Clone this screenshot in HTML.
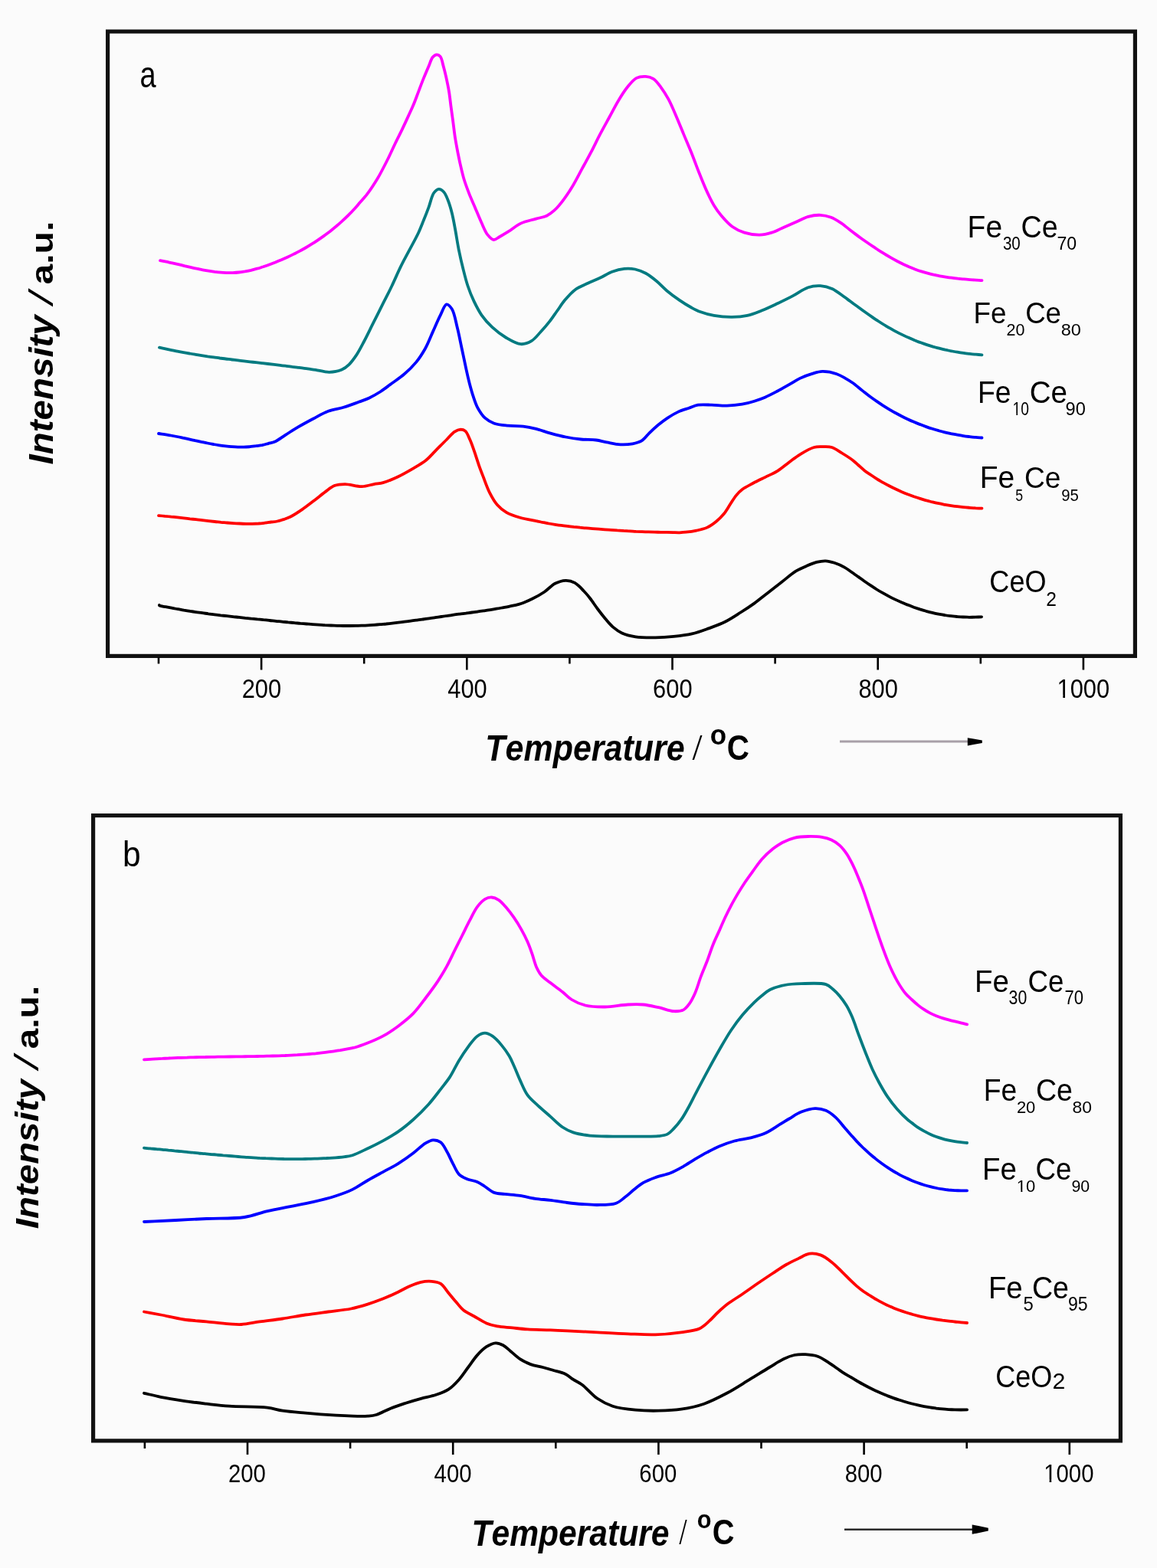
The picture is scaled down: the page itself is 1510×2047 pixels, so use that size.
<!DOCTYPE html><html><head><meta charset="utf-8"><title>TPR</title><style>html,body{margin:0;padding:0;background:#fbfbfb;}svg{display:block;}</style></head><body>
<svg width="1510" height="2047" viewBox="0 0 1510 2047">
<rect x="0" y="0" width="1510" height="2047" fill="#fbfbfb"/>
<rect x="140.6" y="41.1" width="1340.8" height="815.3" fill="none" stroke="#111" stroke-width="5.2"/>
<line x1="207.0" y1="858.0" x2="207.0" y2="866.5" stroke="#000" stroke-width="2.6"/>
<line x1="341.1" y1="858.0" x2="341.1" y2="874.5" stroke="#000" stroke-width="2.6"/>
<line x1="475.2" y1="858.0" x2="475.2" y2="866.5" stroke="#000" stroke-width="2.6"/>
<line x1="609.3" y1="858.0" x2="609.3" y2="874.5" stroke="#000" stroke-width="2.6"/>
<line x1="743.4" y1="858.0" x2="743.4" y2="866.5" stroke="#000" stroke-width="2.6"/>
<line x1="877.5" y1="858.0" x2="877.5" y2="874.5" stroke="#000" stroke-width="2.6"/>
<line x1="1011.6" y1="858.0" x2="1011.6" y2="866.5" stroke="#000" stroke-width="2.6"/>
<line x1="1145.7" y1="858.0" x2="1145.7" y2="874.5" stroke="#000" stroke-width="2.6"/>
<line x1="1279.8" y1="858.0" x2="1279.8" y2="866.5" stroke="#000" stroke-width="2.6"/>
<line x1="1413.9" y1="858.0" x2="1413.9" y2="874.5" stroke="#000" stroke-width="2.6"/>
<path d="M209.0,340.2 C211.6,340.7 214.3,341.2 216.9,341.7 C219.5,342.3 222.2,342.8 224.8,343.4 C227.5,344.0 230.1,344.6 232.7,345.2 C235.4,345.8 238.0,346.4 240.6,347.1 C243.3,347.7 245.9,348.3 248.5,348.9 C251.2,349.5 253.8,350.1 256.5,350.7 C259.1,351.2 261.7,351.8 264.4,352.3 C267.0,352.8 269.6,353.3 272.3,353.7 C274.9,354.1 277.5,354.5 280.2,354.9 C282.8,355.2 285.5,355.5 288.1,355.7 C290.7,355.9 293.4,356.0 296.0,356.1 C298.6,356.2 301.3,356.2 303.9,356.1 C306.5,356.0 309.2,355.8 311.8,355.5 C314.5,355.2 317.1,354.8 319.7,354.4 C322.4,353.9 325.0,353.4 327.6,352.8 C330.3,352.1 332.9,351.4 335.5,350.7 C338.2,350.0 340.8,349.1 343.5,348.3 C346.1,347.4 348.7,346.5 351.4,345.5 C354.0,344.5 356.6,343.5 359.3,342.5 C361.9,341.4 364.6,340.3 367.2,339.2 C369.8,338.1 372.5,336.9 375.1,335.7 C377.7,334.5 380.4,333.2 383.0,331.9 C385.6,330.6 388.3,329.3 390.9,327.9 C393.6,326.5 396.2,325.0 398.8,323.5 C401.5,322.0 404.1,320.4 406.7,318.7 C409.4,317.1 412.0,315.4 414.6,313.6 C417.3,311.8 419.9,310.0 422.5,308.1 C425.2,306.2 427.8,304.2 430.5,302.2 C433.1,300.1 435.7,298.0 438.4,295.8 C441.0,293.5 443.7,291.2 446.3,288.9 C448.9,286.5 451.6,284.0 454.2,281.4 C456.8,278.8 459.5,276.1 462.1,273.3 C464.8,270.4 467.3,267.2 470.0,264.1 C472.9,260.7 475.8,257.8 479.0,253.6 C483.4,247.8 488.7,239.7 493.2,232.2 C497.9,224.3 502.5,214.9 506.5,207.0 C510.0,200.0 512.7,193.7 515.8,187.2 C518.8,180.9 522.1,174.7 525.0,168.6 C527.8,162.8 530.5,156.9 533.0,151.4 C535.3,146.3 537.5,141.9 539.6,136.8 C541.9,131.3 544.0,125.3 546.2,119.6 C548.4,113.9 550.5,108.0 552.8,102.4 C555.0,97.0 557.4,91.4 559.5,86.5 C561.3,82.2 562.6,77.2 564.8,74.6 C566.3,72.8 568.4,71.3 570.1,71.3 C571.7,71.3 573.4,72.3 574.7,73.9 C576.7,76.4 577.5,82.2 578.7,86.5 C579.9,90.8 580.9,94.8 582.0,99.7 C583.3,105.6 584.9,112.9 586.0,119.6 C587.1,126.2 587.7,132.9 588.6,139.5 C589.5,146.1 590.4,152.7 591.3,159.3 C592.2,165.9 592.9,172.7 593.9,179.2 C594.9,185.5 596.1,191.8 597.2,197.7 C598.3,203.2 599.2,207.9 600.5,213.6 C602.0,220.2 603.7,228.0 605.8,234.8 C607.8,241.3 610.1,247.2 612.5,253.4 C614.9,259.6 617.8,265.7 620.4,271.9 C623.0,278.1 625.6,284.6 628.3,290.5 C630.9,296.1 633.2,302.5 636.3,306.4 C638.7,309.4 641.4,312.7 644.2,313.0 C646.8,313.3 649.2,310.6 652.2,309.0 C656.1,306.9 660.9,303.9 665.4,301.1 C670.1,298.1 674.3,294.1 679.7,291.6 C685.6,288.8 693.6,287.4 699.6,285.6 C704.6,284.1 709.4,283.7 713.5,281.7 C717.3,279.9 720.1,277.7 723.4,274.7 C727.4,271.0 731.6,265.9 735.4,260.8 C739.6,255.3 743.5,249.2 747.3,242.9 C751.4,236.1 755.2,228.4 759.2,221.1 C763.2,213.8 767.2,206.7 771.1,199.2 C775.2,191.5 779.0,183.1 783.1,175.4 C787.0,167.9 791.0,160.8 795.0,153.5 C799.0,146.2 802.8,138.5 806.9,131.7 C810.7,125.4 814.6,119.0 818.8,113.8 C822.6,109.2 826.3,104.1 830.7,101.9 C834.4,100.0 838.9,99.7 842.7,99.9 C846.2,100.1 849.5,100.9 852.6,102.8 C856.3,105.1 859.4,109.6 862.5,113.8 C866.0,118.5 869.4,123.9 872.5,129.7 C876.0,136.3 879.2,144.0 882.4,151.5 C885.8,159.3 889.0,167.4 892.3,175.4 C895.6,183.3 899.0,191.1 902.3,199.2 C905.7,207.6 908.8,216.6 912.2,225.0 C915.4,233.1 918.7,241.4 922.1,248.9 C925.2,255.7 928.2,262.2 931.7,267.9 C934.8,273.0 937.8,277.3 941.6,281.8 C945.7,286.6 950.4,292.0 955.5,295.7 C960.4,299.2 965.6,301.8 971.4,303.6 C977.5,305.5 985.0,306.7 991.3,306.6 C996.9,306.5 1002.0,305.2 1007.2,303.6 C1012.6,301.9 1017.8,299.0 1023.1,296.7 C1028.4,294.4 1033.7,292.0 1039.0,289.7 C1044.3,287.4 1049.4,284.3 1054.8,282.8 C1060.0,281.4 1065.6,280.6 1070.7,280.8 C1075.5,281.0 1080.1,282.1 1084.6,283.8 C1089.4,285.6 1096.4,290.3 1098.6,291.7 C1099.3,292.2 1099.3,292.2 1100.0,292.7 C1101.6,293.9 1105.3,296.9 1107.9,299.0 C1110.5,301.0 1113.1,303.1 1115.8,305.1 C1118.4,307.1 1121.0,309.1 1123.7,311.0 C1126.3,312.9 1128.9,314.7 1131.6,316.5 C1134.2,318.3 1136.8,320.1 1139.5,321.9 C1142.1,323.6 1144.7,325.4 1147.3,327.1 C1150.0,328.7 1152.6,330.4 1155.2,332.0 C1157.9,333.6 1160.5,335.1 1163.1,336.6 C1165.7,338.1 1168.4,339.6 1171.0,341.0 C1173.6,342.4 1176.3,343.7 1178.9,345.0 C1181.5,346.2 1184.2,347.4 1186.8,348.6 C1189.4,349.7 1192.1,350.7 1194.7,351.7 C1197.3,352.7 1199.9,353.6 1202.6,354.4 C1205.2,355.3 1207.8,356.0 1210.5,356.7 C1213.1,357.4 1215.7,358.1 1218.4,358.7 C1221.0,359.2 1223.6,359.8 1226.3,360.3 C1228.9,360.8 1231.5,361.2 1234.2,361.6 C1236.8,362.0 1239.4,362.4 1242.0,362.7 C1244.7,363.1 1247.3,363.4 1249.9,363.7 C1252.6,363.9 1255.2,364.2 1257.8,364.4 C1260.5,364.7 1263.1,364.9 1265.7,365.1 C1268.3,365.3 1271.0,365.5 1273.6,365.6 C1276.2,365.8 1278.9,365.9 1281.5,366.1" fill="none" stroke="#ff00ff" stroke-width="3.8" stroke-linejoin="round" stroke-linecap="round"/>
<path d="M208.0,453.7 C210.6,454.3 213.3,454.9 215.9,455.4 C218.5,456.0 221.1,456.6 223.8,457.1 C226.4,457.6 229.0,458.2 231.6,458.7 C234.3,459.2 236.9,459.7 239.5,460.1 C242.1,460.6 244.8,461.1 247.4,461.5 C250.0,462.0 252.7,462.4 255.3,462.8 C257.9,463.3 260.5,463.7 263.2,464.1 C265.8,464.5 268.4,464.9 271.0,465.3 C273.7,465.6 276.3,466.0 278.9,466.4 C281.5,466.8 284.2,467.1 286.8,467.5 C289.4,467.8 292.1,468.2 294.7,468.5 C297.3,468.8 299.9,469.2 302.6,469.5 C305.2,469.8 307.8,470.1 310.4,470.4 C313.1,470.8 315.7,471.1 318.3,471.4 C320.9,471.7 323.6,472.0 326.2,472.3 C328.8,472.6 331.5,472.9 334.1,473.2 C336.7,473.5 339.3,473.8 342.0,474.1 C344.6,474.4 347.2,474.7 349.8,475.0 C352.5,475.3 355.1,475.6 357.7,475.9 C360.3,476.2 363.0,476.5 365.6,476.8 C368.2,477.2 370.9,477.5 373.5,477.8 C376.1,478.1 378.7,478.4 381.4,478.8 C384.0,479.1 386.6,479.5 389.2,479.8 C391.9,480.2 394.5,480.6 397.1,480.9 C399.7,481.3 402.5,481.6 405.0,481.9 C407.4,482.2 409.1,482.4 411.9,482.8 C416.5,483.5 424.0,485.9 429.8,485.8 C435.3,485.7 441.2,484.7 445.7,482.8 C449.6,481.1 452.5,478.8 455.6,475.8 C459.2,472.4 462.4,467.7 465.6,462.9 C469.1,457.5 472.1,451.4 475.5,445.0 C479.4,437.7 483.4,429.1 487.4,421.2 C491.4,413.3 495.3,405.3 499.3,397.4 C503.3,389.4 507.4,381.7 511.3,373.5 C515.3,365.1 519.3,355.6 523.2,347.7 C526.5,340.9 529.5,335.6 533.0,328.9 C537.1,321.1 542.7,311.2 546.2,303.7 C548.9,297.9 550.6,293.2 552.8,287.8 C555.1,282.2 557.3,276.5 559.5,270.6 C561.8,264.5 563.2,256.1 566.1,252.0 C568.0,249.4 570.4,247.0 572.7,246.8 C574.9,246.7 577.4,248.7 579.3,250.7 C581.6,253.2 583.0,257.3 584.6,261.3 C586.6,266.3 588.4,272.5 589.9,278.5 C591.5,284.9 592.6,291.2 593.9,298.4 C595.5,306.8 596.9,316.8 598.7,325.8 C600.5,334.6 602.5,343.5 604.6,351.7 C606.5,359.3 608.2,366.5 610.6,373.5 C612.9,380.4 615.6,387.0 618.6,393.4 C621.6,399.6 624.6,405.7 628.5,411.3 C632.5,417.0 637.2,422.4 642.4,427.2 C647.7,432.1 653.7,436.8 660.0,440.5 C666.2,444.1 673.6,448.8 679.7,449.2 C684.7,449.5 689.4,447.7 693.6,445.2 C698.1,442.5 701.7,437.5 705.6,433.3 C709.7,428.9 713.8,424.1 717.5,419.4 C721.1,414.8 724.1,410.1 727.4,405.5 C730.7,400.9 733.6,396.1 737.4,391.6 C741.5,386.8 746.2,381.4 751.3,377.7 C756.2,374.2 761.9,372.2 767.2,369.7 C772.5,367.2 777.8,365.3 783.1,362.8 C788.4,360.3 793.5,356.8 798.9,354.8 C804.1,352.9 809.6,351.4 814.8,350.9 C819.6,350.4 824.2,350.6 828.8,351.5 C833.5,352.5 838.2,354.4 842.7,356.8 C847.5,359.4 852.1,363.1 856.6,366.8 C861.4,370.7 865.6,375.6 870.5,379.7 C875.5,383.9 881.0,387.9 886.4,391.6 C891.6,395.2 897.4,398.8 902.3,401.5 C906.4,403.7 909.5,405.4 913.8,407.0 C919.0,408.9 925.3,410.8 931.7,411.9 C939.0,413.2 947.9,414.0 955.5,413.9 C962.4,413.8 968.9,413.3 975.4,411.9 C982.1,410.4 988.6,407.6 995.2,405.0 C1001.9,402.3 1008.5,399.1 1015.1,396.0 C1021.8,392.8 1028.4,389.6 1035.0,386.1 C1041.6,382.6 1048.4,377.3 1054.8,375.2 C1060.2,373.4 1065.4,372.9 1070.7,373.2 C1076.0,373.5 1083.3,375.8 1086.6,377.2 C1088.2,377.9 1088.6,378.4 1090.0,379.3 C1092.1,380.7 1095.3,382.8 1098.0,384.7 C1100.7,386.6 1103.3,388.6 1106.0,390.6 C1108.6,392.6 1111.3,394.5 1113.9,396.5 C1116.6,398.4 1119.3,400.3 1121.9,402.2 C1124.6,404.2 1127.2,406.1 1129.9,408.0 C1132.5,409.9 1135.2,411.8 1137.9,413.6 C1140.5,415.5 1143.2,417.2 1145.9,419.0 C1148.5,420.7 1151.2,422.4 1153.8,424.0 C1156.5,425.6 1159.1,427.2 1161.8,428.7 C1164.5,430.2 1167.1,431.7 1169.8,433.1 C1172.4,434.5 1175.1,435.8 1177.8,437.1 C1180.4,438.4 1183.1,439.7 1185.8,440.8 C1188.4,442.0 1191.1,443.2 1193.7,444.3 C1196.4,445.3 1199.0,446.4 1201.7,447.3 C1204.4,448.3 1207.0,449.2 1209.7,450.1 C1212.3,451.0 1215.0,451.8 1217.7,452.6 C1220.3,453.3 1223.0,454.1 1225.6,454.7 C1228.3,455.4 1231.0,456.1 1233.6,456.7 C1236.3,457.2 1238.9,457.8 1241.6,458.3 C1244.3,458.8 1246.9,459.3 1249.6,459.7 C1252.2,460.2 1254.9,460.6 1257.6,460.9 C1260.2,461.3 1262.9,461.6 1265.5,461.9 C1268.2,462.2 1270.9,462.5 1273.5,462.7 C1276.2,462.9 1278.8,463.1 1281.5,463.3" fill="none" stroke="#037a80" stroke-width="3.8" stroke-linejoin="round" stroke-linecap="round"/>
<path d="M207.0,566.0 C209.6,566.4 212.3,566.7 214.9,567.1 C217.6,567.5 220.2,568.0 222.9,568.5 C225.5,569.0 228.2,569.5 230.8,570.0 C233.5,570.5 236.1,571.1 238.8,571.7 C241.4,572.2 244.1,572.8 246.7,573.4 C249.4,574.0 252.0,574.6 254.7,575.2 C257.3,575.7 260.0,576.3 262.6,576.9 C265.3,577.4 267.9,578.0 270.6,578.5 C273.2,579.1 275.8,579.6 278.5,580.0 C281.1,580.5 283.8,581.0 286.4,581.4 C289.1,581.8 291.7,582.1 294.4,582.4 C297.0,582.7 299.7,583.0 302.3,583.2 C305.0,583.4 307.6,583.6 310.3,583.6 C312.9,583.7 315.6,583.7 318.2,583.7 C320.9,583.6 323.5,583.4 326.2,583.2 C328.8,582.9 331.5,582.5 334.1,582.2 C336.8,581.8 339.4,581.6 342.1,581.1 C344.7,580.5 347.3,579.8 350.0,579.1 C352.9,578.3 355.8,578.0 359.0,576.5 C363.3,574.6 368.1,570.6 372.9,567.6 C378.0,564.4 383.2,560.9 388.8,557.6 C395.0,554.0 402.0,550.2 408.6,546.7 C415.2,543.2 421.7,539.3 428.5,536.8 C435.0,534.4 441.8,533.8 448.4,531.8 C455.1,529.8 462.2,527.0 468.2,524.8 C473.2,522.9 477.4,521.7 482.0,519.5 C487.0,517.1 492.1,514.1 497.0,511.0 C501.9,507.8 506.4,504.1 511.3,500.5 C516.5,496.7 522.1,493.2 527.2,488.8 C532.7,484.1 538.4,478.6 543.1,472.9 C547.7,467.3 551.4,461.4 555.0,455.0 C558.8,448.2 561.6,440.4 564.9,433.1 C568.2,425.8 571.5,417.7 574.8,411.3 C577.5,406.1 579.9,397.9 582.8,397.4 C585.0,397.0 587.7,400.3 589.7,403.3 C593.0,408.3 594.6,418.9 596.7,427.2 C599.0,436.1 600.7,445.7 602.7,455.0 C604.7,464.3 606.8,474.6 608.6,482.8 C610.0,489.2 611.2,494.4 612.6,500.0 C614.0,505.4 615.4,510.6 617.1,515.9 C618.9,521.2 620.5,526.8 623.1,531.8 C625.8,536.8 629.1,542.1 633.0,545.7 C636.5,548.9 640.4,551.1 644.9,552.7 C650.1,554.6 656.7,555.0 662.8,555.6 C669.2,556.3 676.5,555.9 682.7,556.6 C688.3,557.3 693.0,558.2 698.6,559.6 C704.9,561.1 711.8,563.8 718.4,565.6 C725.0,567.4 731.6,569.2 738.3,570.5 C744.9,571.8 751.6,572.8 758.2,573.5 C764.8,574.2 772.0,573.7 778.0,574.5 C783.0,575.2 786.9,576.5 791.8,577.4 C797.4,578.4 803.9,580.0 809.7,580.3 C815.1,580.6 820.7,580.2 825.6,579.3 C829.9,578.5 833.9,577.6 837.5,575.4 C841.3,573.1 843.9,568.8 847.4,565.4 C851.1,561.8 855.2,557.9 859.3,554.5 C863.2,551.3 867.1,548.4 871.3,545.6 C875.7,542.7 880.5,539.8 885.2,537.6 C889.7,535.5 894.6,534.2 899.1,532.7 C903.2,531.3 906.6,529.4 911.0,528.7 C916.3,527.8 922.8,528.5 928.9,528.7 C935.4,528.9 942.2,529.9 948.8,529.7 C955.4,529.5 962.4,528.8 968.6,527.7 C974.2,526.7 979.4,525.3 984.5,523.7 C989.3,522.2 993.7,520.7 998.4,518.7 C1003.6,516.5 1009.0,513.6 1014.3,510.8 C1019.6,508.0 1025.1,504.8 1030.2,501.9 C1035.0,499.2 1039.2,496.2 1044.1,493.9 C1049.1,491.5 1054.9,489.4 1060.0,487.9 C1064.6,486.5 1068.4,485.0 1073.2,484.9 C1078.9,484.8 1085.7,486.0 1092.0,488.2 C1099.1,490.8 1108.5,496.9 1113.5,500.3 C1116.4,502.3 1117.7,503.7 1120.0,505.5 C1122.5,507.6 1125.4,509.9 1128.1,512.1 C1130.8,514.2 1133.4,516.3 1136.2,518.3 C1138.8,520.2 1141.5,522.1 1144.2,523.9 C1146.9,525.8 1149.6,527.6 1152.3,529.3 C1155.0,531.0 1157.7,532.7 1160.4,534.3 C1163.1,535.9 1165.7,537.5 1168.5,539.0 C1171.1,540.4 1173.8,541.9 1176.5,543.2 C1179.2,544.6 1181.9,545.9 1184.6,547.2 C1187.3,548.5 1190.0,549.7 1192.7,550.8 C1195.4,552.0 1198.0,553.1 1200.8,554.1 C1203.4,555.2 1206.1,556.2 1208.8,557.1 C1211.5,558.1 1214.2,559.0 1216.9,559.8 C1219.6,560.7 1222.3,561.5 1225.0,562.2 C1227.7,563.0 1230.4,563.7 1233.0,564.3 C1235.7,565.0 1238.4,565.6 1241.1,566.2 C1243.8,566.7 1246.5,567.3 1249.2,567.7 C1251.9,568.2 1254.6,568.7 1257.3,569.1 C1260.0,569.5 1262.7,569.8 1265.3,570.1 C1268.0,570.4 1270.7,570.7 1273.4,570.9 C1276.1,571.2 1278.8,571.3 1281.5,571.5" fill="none" stroke="#0000ff" stroke-width="3.8" stroke-linejoin="round" stroke-linecap="round"/>
<path d="M207.0,673.2 C209.7,673.4 212.4,673.6 215.2,673.9 C217.9,674.1 220.6,674.3 223.3,674.6 C226.0,674.8 228.7,675.1 231.4,675.4 C234.2,675.7 236.9,676.0 239.6,676.3 C242.3,676.6 245.0,676.9 247.8,677.3 C250.5,677.6 253.2,677.9 255.9,678.2 C258.6,678.5 261.3,678.9 264.1,679.2 C266.8,679.5 269.5,679.8 272.2,680.1 C274.9,680.4 277.6,680.7 280.4,681.0 C283.1,681.3 285.8,681.5 288.5,681.8 C291.2,682.0 293.9,682.3 296.6,682.5 C299.4,682.7 302.1,682.9 304.8,683.1 C307.5,683.3 310.2,683.4 312.9,683.5 C315.7,683.7 318.4,683.8 321.1,683.8 C323.8,683.8 326.5,683.9 329.2,683.8 C332.0,683.7 334.7,683.6 337.4,683.5 C340.1,683.3 342.8,683.0 345.6,682.7 C348.3,682.4 351.0,681.9 353.7,681.5 C356.4,681.2 359.2,681.1 361.9,680.5 C364.6,680.0 367.2,679.0 370.0,678.1 C372.9,677.1 375.5,676.4 378.8,674.8 C383.4,672.5 389.5,668.5 394.7,664.9 C400.1,661.2 405.5,656.9 410.6,653.0 C415.4,649.3 420.0,645.4 424.5,642.1 C428.6,639.1 432.1,635.8 436.4,634.1 C440.7,632.5 445.1,632.1 450.3,632.1 C456.8,632.1 465.5,635.3 472.2,635.1 C477.9,635.0 483.2,633.0 488.1,632.1 C492.3,631.3 495.5,631.3 499.9,630.1 C505.7,628.5 513.2,625.3 519.7,622.2 C526.4,619.0 533.4,614.9 539.6,611.3 C545.3,608.0 550.6,605.2 555.5,601.3 C560.5,597.3 564.8,592.0 569.4,587.4 C574.0,582.8 579.0,577.7 583.3,573.5 C586.9,569.9 589.9,565.8 593.3,563.6 C595.9,561.9 598.7,560.7 601.2,560.6 C603.3,560.6 605.4,561.1 607.2,562.6 C609.7,564.7 611.3,569.5 613.1,573.5 C615.3,578.2 617.2,583.9 619.1,589.4 C621.1,595.2 623.0,601.5 625.0,607.3 C626.9,612.8 628.8,617.6 631.0,623.2 C633.4,629.5 635.9,637.0 639.0,643.1 C641.9,648.8 645.0,654.6 648.9,659.0 C652.4,663.0 656.2,666.2 660.8,668.9 C665.9,671.9 672.5,674.0 678.7,675.8 C685.1,677.7 695.8,679.2 698.6,679.8 C699.3,679.9 699.3,679.9 700.0,680.1 C701.6,680.4 705.4,681.3 708.1,681.9 C710.8,682.4 713.5,683.0 716.2,683.5 C719.0,684.0 721.7,684.4 724.4,684.8 C727.1,685.2 729.8,685.6 732.5,685.9 C735.2,686.3 737.9,686.6 740.6,686.9 C743.3,687.3 746.0,687.6 748.8,687.9 C751.5,688.1 754.2,688.4 756.9,688.7 C759.6,688.9 762.3,689.2 765.0,689.4 C767.7,689.7 770.4,689.9 773.1,690.1 C775.8,690.3 778.5,690.5 781.2,690.7 C784.0,690.9 786.7,691.1 789.4,691.3 C792.1,691.5 794.8,691.7 797.5,691.8 C800.2,692.0 802.9,692.2 805.6,692.4 C808.3,692.5 811.0,692.7 813.8,692.9 C816.5,693.0 819.2,693.2 821.9,693.3 C824.6,693.5 827.3,693.6 830.0,693.8 C832.7,693.9 835.4,694.0 838.1,694.1 C840.8,694.3 843.5,694.4 846.2,694.4 C849.0,694.5 851.7,694.6 854.4,694.7 C857.1,694.7 859.8,694.8 862.5,694.8 C865.2,694.9 867.9,694.9 870.6,694.9 C873.3,694.9 876.0,695.0 878.8,695.1 C881.5,695.2 884.2,695.4 886.9,695.3 C889.6,695.2 891.9,695.1 895.0,694.7 C899.0,694.3 904.4,693.6 909.0,692.6 C913.7,691.6 918.6,690.6 922.9,688.6 C927.2,686.6 931.1,683.7 934.8,680.7 C938.4,677.7 941.8,674.3 944.8,670.7 C947.8,667.0 950.1,662.8 952.7,658.8 C955.4,654.8 957.9,650.3 960.7,646.9 C963.2,643.9 965.4,641.4 968.6,639.0 C972.4,636.1 977.7,633.6 982.5,631.0 C987.6,628.3 993.1,625.7 998.4,623.1 C1003.7,620.4 1009.1,618.3 1014.3,615.1 C1019.8,611.7 1025.1,607.0 1030.2,603.2 C1035.0,599.7 1039.0,596.4 1044.1,593.3 C1049.7,589.9 1056.8,585.5 1062.4,584.0 C1066.6,582.8 1070.1,583.2 1074.0,583.2 C1077.9,583.2 1081.7,582.8 1085.6,584.0 C1090.0,585.3 1094.3,588.7 1098.8,591.5 C1103.7,594.5 1109.9,598.4 1113.7,601.4 C1116.3,603.4 1117.8,605.0 1120.0,607.0 C1122.5,609.2 1125.3,612.0 1128.1,614.2 C1130.7,616.3 1133.4,618.0 1136.2,619.8 C1138.8,621.6 1141.5,623.4 1144.2,625.1 C1146.9,626.8 1149.6,628.3 1152.3,629.9 C1155.0,631.4 1157.7,632.9 1160.4,634.3 C1163.1,635.7 1165.7,637.0 1168.5,638.3 C1171.1,639.6 1173.8,640.8 1176.5,642.0 C1179.2,643.1 1181.9,644.2 1184.6,645.3 C1187.3,646.3 1190.0,647.3 1192.7,648.3 C1195.4,649.2 1198.1,650.1 1200.8,650.9 C1203.4,651.8 1206.1,652.6 1208.8,653.3 C1211.5,654.1 1214.2,654.7 1216.9,655.4 C1219.6,656.1 1222.3,656.7 1225.0,657.2 C1227.7,657.8 1230.4,658.3 1233.0,658.8 C1235.7,659.3 1238.4,659.7 1241.1,660.1 C1243.8,660.5 1246.5,660.9 1249.2,661.2 C1251.9,661.6 1254.6,661.9 1257.3,662.1 C1260.0,662.4 1262.7,662.6 1265.3,662.8 C1268.0,663.0 1270.7,663.2 1273.4,663.4 C1276.1,663.5 1278.8,663.6 1281.5,663.7" fill="none" stroke="#ff0000" stroke-width="3.8" stroke-linejoin="round" stroke-linecap="round"/>
<path d="M207.9,790.0 C207.9,790.2 207.8,790.4 208.0,790.5 C208.6,791.2 213.3,791.7 216.0,792.2 C218.7,792.7 221.3,793.2 224.0,793.7 C226.7,794.3 229.3,794.7 232.0,795.2 C234.7,795.7 237.3,796.1 240.0,796.6 C242.7,797.0 245.3,797.4 248.0,797.9 C250.7,798.3 253.3,798.7 256.0,799.1 C258.7,799.5 261.3,799.8 264.0,800.2 C266.7,800.6 269.3,800.9 272.0,801.3 C274.7,801.6 277.3,802.0 280.0,802.3 C282.7,802.6 285.3,802.9 288.0,803.3 C290.7,803.6 293.3,803.9 296.0,804.2 C298.7,804.5 301.3,804.8 304.0,805.1 C306.7,805.4 309.3,805.6 312.0,805.9 C314.7,806.2 317.3,806.5 320.0,806.8 C322.7,807.0 325.3,807.3 328.0,807.6 C330.7,807.8 333.3,808.1 336.0,808.4 C338.7,808.6 341.3,808.9 344.0,809.2 C346.7,809.4 349.3,809.7 352.0,810.0 C354.7,810.3 357.3,810.5 360.0,810.8 C362.7,811.1 365.3,811.3 368.0,811.6 C370.7,811.9 373.3,812.1 376.0,812.4 C378.7,812.6 381.3,812.9 384.0,813.1 C386.7,813.4 389.3,813.6 392.0,813.9 C394.7,814.1 397.3,814.3 400.0,814.5 C402.7,814.7 405.3,815.0 408.0,815.1 C410.7,815.3 413.3,815.5 416.0,815.7 C418.7,815.9 421.3,816.0 424.0,816.2 C426.7,816.3 429.3,816.4 432.0,816.5 C434.7,816.6 437.3,816.7 440.0,816.8 C442.7,816.9 445.3,816.9 448.0,817.0 C450.7,817.0 453.3,817.0 456.0,817.0 C458.7,817.0 461.3,817.0 464.0,816.9 C466.7,816.9 469.3,816.8 472.0,816.7 C474.7,816.6 477.3,816.5 480.0,816.3 C482.7,816.2 485.3,816.0 488.0,815.8 C490.7,815.6 493.3,815.4 496.0,815.2 C498.7,815.0 501.3,814.7 504.0,814.5 C506.7,814.2 509.3,813.9 512.0,813.6 C514.7,813.3 517.3,813.0 520.0,812.7 C522.7,812.4 525.3,812.1 528.0,811.7 C530.7,811.4 533.3,811.1 536.0,810.7 C538.7,810.4 541.3,810.0 544.0,809.6 C546.7,809.3 549.3,808.9 552.0,808.5 C554.7,808.1 557.3,807.7 560.0,807.3 C562.7,807.0 565.3,806.6 568.0,806.2 C570.7,805.8 573.3,805.4 576.0,805.0 C578.7,804.6 581.3,804.2 584.0,803.9 C586.7,803.5 589.3,803.1 592.0,802.7 C594.7,802.4 597.3,802.0 600.0,801.6 C602.7,801.3 605.3,800.9 608.0,800.6 C610.7,800.2 613.3,799.9 616.0,799.5 C618.7,799.2 621.3,798.8 624.0,798.4 C626.7,798.1 629.3,797.7 632.0,797.3 C634.7,796.9 637.3,796.5 640.0,796.1 C642.7,795.7 645.3,795.2 648.0,794.7 C650.7,794.3 653.3,793.8 656.0,793.3 C658.7,792.8 661.3,792.4 664.0,791.8 C666.7,791.3 669.3,790.7 672.0,790.1 C674.7,789.5 677.0,789.1 680.0,788.0 C684.2,786.6 689.7,784.1 694.6,781.7 C699.9,779.1 705.5,776.1 710.5,772.7 C715.4,769.4 719.5,764.3 724.4,761.8 C728.8,759.5 733.8,757.9 738.3,757.8 C742.4,757.7 746.5,758.8 750.2,760.8 C754.5,763.1 758.6,768.1 762.1,771.7 C765.1,774.8 767.3,777.5 770.0,781.0 C773.2,785.1 776.6,790.5 780.0,795.0 C783.2,799.3 786.5,803.5 789.8,807.5 C793.0,811.3 796.0,815.2 799.7,818.4 C803.3,821.5 807.1,824.3 811.7,826.4 C816.9,828.8 822.9,830.3 829.5,831.3 C837.3,832.5 847.0,832.4 855.4,832.3 C863.5,832.2 871.3,831.7 879.2,830.9 C887.2,830.1 895.4,829.2 903.1,827.4 C910.6,825.7 917.7,823.0 924.9,820.4 C932.2,817.7 939.8,815.0 946.8,811.5 C953.7,808.0 960.2,803.6 966.6,799.5 C972.8,795.6 978.6,791.8 984.5,787.6 C990.5,783.3 996.4,778.3 1002.4,773.7 C1008.4,769.1 1014.3,764.4 1020.3,759.8 C1026.3,755.2 1032.4,749.5 1038.2,745.9 C1043.1,742.9 1047.8,740.9 1052.5,738.9 C1056.9,737.0 1061.4,735.0 1065.7,733.9 C1069.6,732.9 1073.4,732.2 1077.3,732.3 C1081.2,732.4 1085.0,733.5 1088.9,734.8 C1093.2,736.2 1097.8,738.2 1102.1,740.6 C1106.6,743.1 1112.1,747.4 1115.4,749.7 C1117.3,751.0 1118.3,751.6 1120.0,752.9 C1122.3,754.5 1125.4,756.8 1128.1,758.7 C1130.7,760.5 1133.4,762.4 1136.1,764.2 C1138.8,766.0 1141.5,767.8 1144.2,769.5 C1146.8,771.2 1149.5,772.7 1152.2,774.2 C1154.9,775.7 1157.6,777.2 1160.3,778.6 C1162.9,780.0 1165.6,781.3 1168.3,782.6 C1171.0,783.9 1173.7,785.1 1176.4,786.3 C1179.1,787.4 1181.7,788.6 1184.4,789.6 C1187.1,790.7 1189.8,791.7 1192.5,792.7 C1195.2,793.6 1197.9,794.5 1200.5,795.4 C1203.2,796.2 1205.9,797.0 1208.6,797.8 C1211.3,798.5 1214.0,799.2 1216.7,799.8 C1219.3,800.5 1222.0,801.1 1224.7,801.6 C1227.4,802.1 1230.1,802.6 1232.8,803.0 C1235.5,803.5 1238.1,803.9 1240.8,804.2 C1243.5,804.5 1246.2,804.8 1248.9,805.0 C1251.6,805.2 1254.2,805.4 1256.9,805.5 C1259.6,805.7 1262.3,805.7 1265.0,805.8 C1267.7,805.8 1270.4,805.7 1273.0,805.7 C1275.7,805.6 1278.4,805.4 1281.1,805.3" fill="none" stroke="#000000" stroke-width="3.8" stroke-linejoin="round" stroke-linecap="round"/>
<text transform="translate(315.70,910.70) scale(0.8876,1)" style="font-family:'Liberation Sans',Arial,sans-serif;font-weight:normal;font-style:normal;font-size:34.75px;font-kerning:none" fill="#000">200</text>
<text transform="translate(584.32,910.70) scale(0.8876,1)" style="font-family:'Liberation Sans',Arial,sans-serif;font-weight:normal;font-style:normal;font-size:34.75px;font-kerning:none" fill="#000">400</text>
<text transform="translate(852.09,910.70) scale(0.8876,1)" style="font-family:'Liberation Sans',Arial,sans-serif;font-weight:normal;font-style:normal;font-size:34.75px;font-kerning:none" fill="#000">600</text>
<text transform="translate(1120.40,910.70) scale(0.8876,1)" style="font-family:'Liberation Sans',Arial,sans-serif;font-weight:normal;font-style:normal;font-size:34.75px;font-kerning:none" fill="#000">800</text>
<text transform="translate(1379.52,910.70) scale(0.8876,1)" style="font-family:'Liberation Sans',Arial,sans-serif;font-weight:normal;font-style:normal;font-size:34.75px;font-kerning:none" fill="#000">1000</text>
<rect x="1380.67" y="907.40" width="6.61" height="4.50" fill="#fbfbfb"/>
<rect x="1390.00" y="907.40" width="6.37" height="4.50" fill="#fbfbfb"/>
<text transform="translate(182.39,114.13) scale(0.7938,1)" style="font-family:'Liberation Sans',Arial,sans-serif;font-weight:normal;font-style:normal;font-size:47.82px;font-kerning:none" fill="#000" >a</text>
<text transform="translate(633.36,993.36) scale(0.8968,1)" style="font-family:'Liberation Sans',Arial,sans-serif;font-weight:bold;font-style:italic;font-size:47.91px;font-kerning:none" fill="#000" >Temperature</text>
<text transform="translate(905.35,992.27) scale(0.7009,1)" style="font-family:'Liberation Sans',Arial,sans-serif;font-weight:normal;font-style:italic;font-size:44.12px;font-kerning:none" fill="#000" >/</text>
<text transform="translate(926.74,972.04) scale(0.9377,1)" style="font-family:'Liberation Sans',Arial,sans-serif;font-weight:bold;font-style:normal;font-size:37.24px;font-kerning:none" fill="#000" >o</text>
<text transform="translate(948.74,992.25) scale(0.8690,1)" style="font-family:'Liberation Sans',Arial,sans-serif;font-weight:bold;font-style:normal;font-size:46.47px;font-kerning:none" fill="#000" >C</text>
<line x1="1096" y1="968" x2="1266" y2="968" stroke="#a8a0a8" stroke-width="3"/>
<polygon points="1262.8,963.2 1270.5,964.6 1281.8,966.6 1281.8,970.0 1270.5,972.0 1262.8,973.4" fill="#000"/>
<text transform="translate(68.78,606.43) rotate(-90) scale(1.0930,1)" style="font-family:'Liberation Sans',Arial,sans-serif;font-weight:bold;font-style:italic;font-size:43.45px;font-kerning:none" fill="#000">Intensity</text>
<text transform="translate(69.36,397.34) rotate(-90) scale(1.2888,1)" style="font-family:'Liberation Sans',Arial,sans-serif;font-weight:normal;font-style:italic;font-size:44.66px;font-kerning:none" fill="#000">/</text>
<text transform="translate(69.41,371.61) rotate(-90) scale(1.2097,1)" style="font-family:'Liberation Sans',Arial,sans-serif;font-weight:bold;font-style:normal;font-size:39.79px;font-kerning:none" fill="#000">a.u.</text>
<text transform="translate(1262.61,309.60) scale(0.9463,1)" style="font-family:'Liberation Sans',Arial,sans-serif;font-weight:normal;font-style:normal;font-size:41.13px;font-kerning:none" fill="#000" >Fe</text>
<text transform="translate(1308.92,326.06) scale(0.8325,1)" style="font-family:'Liberation Sans',Arial,sans-serif;font-weight:normal;font-style:normal;font-size:24.72px;font-kerning:none" fill="#000" >30</text>
<text transform="translate(1332.49,309.60) scale(0.9279,1)" style="font-family:'Liberation Sans',Arial,sans-serif;font-weight:normal;font-style:normal;font-size:40.54px;font-kerning:none" fill="#000" >Ce</text>
<text transform="translate(1379.42,326.06) scale(0.9343,1)" style="font-family:'Liberation Sans',Arial,sans-serif;font-weight:normal;font-style:normal;font-size:24.72px;font-kerning:none" fill="#000" >70</text>
<text transform="translate(1270.58,422.41) scale(0.9305,1)" style="font-family:'Liberation Sans',Arial,sans-serif;font-weight:normal;font-style:normal;font-size:39.56px;font-kerning:none" fill="#000" >Fe</text>
<text transform="translate(1313.62,438.29) scale(1.0018,1)" style="font-family:'Liberation Sans',Arial,sans-serif;font-weight:normal;font-style:normal;font-size:21.47px;font-kerning:none" fill="#000" >20</text>
<text transform="translate(1338.14,422.42) scale(0.9410,1)" style="font-family:'Liberation Sans',Arial,sans-serif;font-weight:normal;font-style:normal;font-size:38.98px;font-kerning:none" fill="#000" >Ce</text>
<text transform="translate(1384.68,438.29) scale(1.0946,1)" style="font-family:'Liberation Sans',Arial,sans-serif;font-weight:normal;font-style:normal;font-size:21.47px;font-kerning:none" fill="#000" >80</text>
<text transform="translate(1276.03,525.81) scale(0.9250,1)" style="font-family:'Liberation Sans',Arial,sans-serif;font-weight:normal;font-style:normal;font-size:40.42px;font-kerning:none" fill="#000" >Fe</text>
<text transform="translate(1321.53,542.28) scale(0.8364,1)" style="font-family:'Liberation Sans',Arial,sans-serif;font-weight:normal;font-style:normal;font-size:23.02px;font-kerning:none" fill="#000" >10</text>
<rect x="1321.80" y="539.86" width="4.58" height="3.62" fill="#fbfbfb"/>
<rect x="1328.07" y="539.86" width="4.42" height="3.62" fill="#fbfbfb"/>
<text transform="translate(1343.64,525.81) scale(0.9677,1)" style="font-family:'Liberation Sans',Arial,sans-serif;font-weight:normal;font-style:normal;font-size:39.83px;font-kerning:none" fill="#000" >Ce</text>
<text transform="translate(1390.59,542.28) scale(1.0241,1)" style="font-family:'Liberation Sans',Arial,sans-serif;font-weight:normal;font-style:normal;font-size:23.02px;font-kerning:none" fill="#000" >90</text>
<text transform="translate(1278.81,637.41) scale(0.9665,1)" style="font-family:'Liberation Sans',Arial,sans-serif;font-weight:normal;font-style:normal;font-size:40.27px;font-kerning:none" fill="#000" >Fe</text>
<text transform="translate(1325.19,653.98) scale(0.7824,1)" style="font-family:'Liberation Sans',Arial,sans-serif;font-weight:normal;font-style:normal;font-size:22.64px;font-kerning:none" fill="#000" >5</text>
<text transform="translate(1336.92,637.41) scale(0.9349,1)" style="font-family:'Liberation Sans',Arial,sans-serif;font-weight:normal;font-style:normal;font-size:39.69px;font-kerning:none" fill="#000" >Ce</text>
<text transform="translate(1385.15,653.98) scale(0.9107,1)" style="font-family:'Liberation Sans',Arial,sans-serif;font-weight:normal;font-style:normal;font-size:22.32px;font-kerning:none" fill="#000" >95</text>
<text transform="translate(1291.37,773.41) scale(0.8991,1)" style="font-family:'Liberation Sans',Arial,sans-serif;font-weight:normal;font-style:normal;font-size:40.11px;font-kerning:none" fill="#000" >CeO</text>
<text transform="translate(1365.16,790.60) scale(0.9279,1)" style="font-family:'Liberation Sans',Arial,sans-serif;font-weight:normal;font-style:normal;font-size:26.50px;font-kerning:none" fill="#000" >2</text>
<rect x="121.6" y="1064.6" width="1340.8" height="816.3" fill="none" stroke="#111" stroke-width="5.2"/>
<line x1="188.9" y1="1882.5" x2="188.9" y2="1891.0" stroke="#000" stroke-width="2.6"/>
<line x1="323.0" y1="1882.5" x2="323.0" y2="1899.0" stroke="#000" stroke-width="2.6"/>
<line x1="457.1" y1="1882.5" x2="457.1" y2="1891.0" stroke="#000" stroke-width="2.6"/>
<line x1="591.2" y1="1882.5" x2="591.2" y2="1899.0" stroke="#000" stroke-width="2.6"/>
<line x1="725.3" y1="1882.5" x2="725.3" y2="1891.0" stroke="#000" stroke-width="2.6"/>
<line x1="859.4" y1="1882.5" x2="859.4" y2="1899.0" stroke="#000" stroke-width="2.6"/>
<line x1="993.5" y1="1882.5" x2="993.5" y2="1891.0" stroke="#000" stroke-width="2.6"/>
<line x1="1127.6" y1="1882.5" x2="1127.6" y2="1899.0" stroke="#000" stroke-width="2.6"/>
<line x1="1261.7" y1="1882.5" x2="1261.7" y2="1891.0" stroke="#000" stroke-width="2.6"/>
<line x1="1395.8" y1="1882.5" x2="1395.8" y2="1899.0" stroke="#000" stroke-width="2.6"/>
<path d="M188.0,1383.4 C190.7,1383.2 193.3,1383.0 196.0,1382.8 C198.7,1382.7 201.3,1382.5 204.0,1382.3 C206.7,1382.2 209.3,1382.0 212.0,1381.9 C214.7,1381.7 217.3,1381.6 220.0,1381.5 C222.7,1381.3 225.3,1381.2 228.0,1381.1 C230.7,1381.0 233.3,1380.9 236.0,1380.8 C238.7,1380.7 241.3,1380.6 244.0,1380.6 C246.7,1380.5 249.3,1380.4 252.0,1380.3 C254.7,1380.3 257.3,1380.2 260.0,1380.2 C262.7,1380.1 265.3,1380.0 268.0,1380.0 C270.7,1379.9 273.3,1379.9 276.0,1379.9 C278.7,1379.8 281.3,1379.8 284.0,1379.7 C286.7,1379.7 289.3,1379.7 292.0,1379.6 C294.7,1379.6 297.3,1379.6 300.0,1379.5 C302.7,1379.5 305.3,1379.5 308.0,1379.4 C310.7,1379.4 313.3,1379.4 316.0,1379.3 C318.7,1379.3 321.3,1379.2 324.0,1379.2 C326.7,1379.2 329.3,1379.1 332.0,1379.1 C334.7,1379.0 337.3,1379.0 340.0,1378.9 C342.7,1378.8 345.3,1378.8 348.0,1378.7 C350.7,1378.7 353.3,1378.6 356.0,1378.5 C358.7,1378.4 361.3,1378.3 364.0,1378.3 C366.7,1378.2 369.3,1378.1 372.0,1378.0 C374.7,1377.8 377.3,1377.7 380.0,1377.6 C382.7,1377.5 385.3,1377.3 388.0,1377.2 C390.7,1377.0 393.3,1376.8 396.0,1376.6 C398.7,1376.4 401.3,1376.2 404.0,1376.0 C406.7,1375.8 409.3,1375.5 412.0,1375.3 C414.7,1375.0 417.3,1374.7 420.0,1374.4 C422.7,1374.1 425.3,1373.8 428.0,1373.4 C430.7,1373.0 433.3,1372.7 436.0,1372.3 C438.7,1371.9 441.3,1371.5 444.0,1371.1 C446.7,1370.6 449.3,1370.1 452.0,1369.6 C454.7,1369.1 458.0,1368.5 460.0,1368.1 C461.2,1367.9 461.6,1367.9 463.0,1367.5 C466.4,1366.6 474.1,1363.9 479.9,1361.6 C486.3,1359.1 493.2,1356.2 499.7,1352.7 C506.5,1349.0 513.1,1344.5 519.6,1339.7 C526.4,1334.6 533.5,1329.1 539.5,1322.9 C545.4,1316.8 550.2,1309.9 555.4,1303.0 C560.8,1295.9 566.5,1288.3 571.3,1281.1 C575.7,1274.4 579.5,1268.0 583.2,1261.3 C586.8,1254.7 589.8,1248.0 593.1,1241.4 C596.4,1234.8 599.8,1228.1 603.1,1221.5 C606.4,1214.9 609.6,1208.1 613.0,1201.7 C616.2,1195.5 619.2,1188.7 622.9,1183.8 C626.0,1179.7 629.4,1175.8 632.9,1173.8 C635.7,1172.2 638.9,1171.3 641.8,1171.5 C644.8,1171.7 647.8,1173.0 650.7,1174.8 C654.2,1177.0 657.5,1181.1 660.7,1184.8 C664.1,1188.7 667.4,1193.1 670.6,1197.7 C674.0,1202.6 677.5,1208.2 680.5,1213.6 C683.4,1218.8 686.1,1224.1 688.5,1229.5 C690.8,1234.7 692.6,1239.9 694.5,1245.4 C696.5,1251.2 698.1,1258.3 700.4,1263.3 C702.2,1267.2 703.7,1270.1 706.4,1273.2 C709.5,1276.8 714.0,1279.7 718.3,1283.1 C723.2,1286.9 729.3,1291.1 734.2,1295.0 C738.5,1298.4 741.5,1302.2 746.1,1305.0 C751.2,1308.1 757.2,1310.9 763.8,1312.5 C771.5,1314.4 780.8,1314.6 789.7,1314.5 C799.3,1314.4 810.6,1311.9 819.5,1311.5 C826.8,1311.1 832.7,1310.9 839.3,1311.5 C846.0,1312.1 852.8,1313.8 859.5,1315.2 C866.2,1316.7 873.6,1319.9 879.5,1320.2 C884.1,1320.4 888.6,1320.1 892.0,1318.4 C895.1,1316.8 897.2,1313.8 899.5,1310.7 C902.3,1306.9 904.6,1302.2 906.9,1297.0 C909.8,1290.6 912.1,1281.9 914.8,1274.7 C917.4,1267.8 920.2,1261.6 922.8,1254.8 C925.5,1247.7 927.9,1239.9 930.7,1233.0 C933.2,1226.7 936.0,1221.1 938.7,1215.1 C941.3,1209.1 943.9,1203.0 946.6,1197.2 C949.2,1191.7 951.9,1186.4 954.6,1181.3 C957.2,1176.5 959.7,1172.2 962.5,1167.4 C965.6,1162.2 969.1,1156.6 972.5,1151.5 C975.7,1146.7 978.9,1142.4 982.4,1137.6 C986.2,1132.5 989.9,1126.6 994.3,1121.7 C998.6,1116.8 1003.8,1112.1 1008.5,1108.3 C1012.7,1105.0 1016.5,1102.4 1021.0,1100.0 C1025.8,1097.5 1031.3,1095.1 1036.8,1093.8 C1042.5,1092.4 1048.7,1092.1 1054.7,1092.0 C1060.7,1091.9 1067.2,1092.0 1072.6,1092.9 C1077.2,1093.7 1081.2,1094.7 1085.1,1096.5 C1089.0,1098.3 1092.6,1100.7 1095.8,1103.6 C1099.2,1106.6 1102.1,1110.5 1104.8,1114.3 C1107.5,1118.2 1109.6,1122.4 1111.9,1126.9 C1114.4,1131.9 1116.8,1137.4 1119.1,1142.9 C1121.5,1148.7 1123.9,1154.5 1126.2,1160.8 C1128.7,1167.6 1131.0,1175.1 1133.4,1182.3 C1135.8,1189.4 1138.1,1196.6 1140.5,1203.7 C1142.9,1210.9 1145.3,1218.2 1147.7,1225.2 C1150.0,1231.9 1152.4,1238.5 1154.8,1244.9 C1157.1,1251.0 1159.3,1256.8 1162.0,1262.7 C1164.7,1268.7 1167.6,1274.9 1170.9,1280.6 C1174.1,1286.2 1178.0,1292.4 1181.6,1296.7 C1184.4,1300.1 1187.2,1302.4 1190.0,1305.0 C1192.7,1307.5 1195.3,1309.9 1198.0,1312.1 C1200.6,1314.2 1203.3,1316.2 1206.0,1317.9 C1208.6,1319.7 1211.3,1321.2 1214.0,1322.6 C1216.7,1324.0 1219.4,1325.2 1222.0,1326.3 C1224.7,1327.3 1227.4,1328.3 1230.1,1329.1 C1232.7,1330.0 1235.4,1330.7 1238.1,1331.4 C1240.7,1332.2 1243.4,1332.8 1246.1,1333.4 C1248.7,1334.1 1251.4,1334.7 1254.1,1335.3 C1256.8,1336.0 1259.4,1336.7 1262.1,1337.3" fill="none" stroke="#ff00ff" stroke-width="3.8" stroke-linejoin="round" stroke-linecap="round"/>
<path d="M188.0,1498.7 C190.6,1498.9 193.3,1499.2 195.9,1499.4 C198.6,1499.6 201.2,1499.9 203.9,1500.1 C206.5,1500.3 209.2,1500.6 211.8,1500.8 C214.5,1501.1 217.1,1501.3 219.8,1501.6 C222.4,1501.8 225.1,1502.1 227.7,1502.4 C230.3,1502.6 233.0,1502.9 235.6,1503.1 C238.3,1503.4 240.9,1503.7 243.6,1503.9 C246.2,1504.2 248.9,1504.4 251.5,1504.7 C254.2,1504.9 256.8,1505.2 259.5,1505.5 C262.1,1505.7 264.7,1506.0 267.4,1506.2 C270.0,1506.5 272.7,1506.7 275.3,1507.0 C278.0,1507.2 280.6,1507.4 283.3,1507.7 C285.9,1507.9 288.6,1508.1 291.2,1508.4 C293.9,1508.6 296.5,1508.8 299.2,1509.0 C301.8,1509.3 304.4,1509.5 307.1,1509.7 C309.7,1509.9 312.4,1510.1 315.0,1510.3 C317.7,1510.5 320.3,1510.6 323.0,1510.8 C325.6,1511.0 328.3,1511.2 330.9,1511.3 C333.6,1511.5 336.2,1511.6 338.8,1511.8 C341.5,1511.9 344.1,1512.0 346.8,1512.2 C349.4,1512.3 352.1,1512.4 354.7,1512.5 C357.4,1512.6 360.0,1512.7 362.7,1512.8 C365.3,1512.8 368.0,1512.9 370.6,1513.0 C373.3,1513.0 375.9,1513.0 378.5,1513.1 C381.2,1513.1 383.8,1513.1 386.5,1513.1 C389.1,1513.1 391.8,1513.1 394.4,1513.1 C397.1,1513.0 399.7,1513.0 402.4,1512.9 C405.0,1512.9 407.7,1512.8 410.3,1512.7 C412.9,1512.6 415.6,1512.5 418.2,1512.4 C420.9,1512.3 423.5,1512.1 426.2,1512.0 C428.8,1511.8 431.5,1511.8 434.1,1511.6 C436.8,1511.4 439.4,1511.2 442.1,1511.0 C444.7,1510.8 447.2,1510.6 450.0,1510.1 C453.2,1509.7 456.2,1509.4 460.0,1508.2 C465.6,1506.4 473.3,1502.4 479.9,1499.3 C486.5,1496.1 493.2,1492.9 499.7,1489.3 C506.4,1485.6 513.1,1481.9 519.6,1477.4 C526.4,1472.7 533.0,1467.3 539.5,1461.5 C546.3,1455.4 553.2,1448.5 559.3,1441.7 C565.1,1435.2 570.3,1428.1 575.2,1421.8 C579.5,1416.2 583.4,1411.7 587.2,1405.9 C591.4,1399.4 595.0,1391.1 599.1,1384.4 C602.9,1378.1 606.9,1372.1 611.0,1366.6 C614.8,1361.6 618.7,1355.7 622.9,1352.7 C626.1,1350.4 629.6,1348.7 632.9,1348.7 C636.2,1348.7 639.6,1350.6 642.8,1352.7 C646.9,1355.4 651.1,1360.3 654.7,1364.6 C658.3,1368.9 661.8,1373.8 664.6,1378.5 C667.2,1382.9 668.8,1387.2 671.0,1392.0 C673.5,1397.5 675.8,1403.8 678.6,1409.9 C681.6,1416.4 684.4,1424.0 688.5,1429.7 C692.4,1435.1 697.5,1439.0 702.4,1443.6 C707.5,1448.3 713.0,1452.9 718.3,1457.6 C723.6,1462.2 728.8,1467.9 734.2,1471.5 C738.8,1474.6 742.8,1476.6 748.1,1478.4 C754.4,1480.5 762.0,1481.7 769.8,1482.6 C778.9,1483.6 789.7,1483.4 799.6,1483.6 C809.5,1483.8 819.5,1483.7 829.4,1483.6 C839.3,1483.5 851.5,1484.1 859.2,1483.2 C864.1,1482.6 867.7,1482.3 871.1,1480.6 C874.3,1479.0 876.4,1476.4 879.1,1473.6 C882.4,1470.3 886.0,1466.0 889.0,1461.7 C892.1,1457.3 894.5,1452.9 897.5,1447.5 C901.3,1440.7 905.4,1432.2 909.7,1424.1 C914.4,1415.2 919.5,1405.5 924.5,1396.3 C929.4,1387.3 934.4,1378.2 939.4,1369.5 C944.3,1361.0 949.1,1352.4 954.3,1344.7 C959.1,1337.6 964.1,1330.9 969.2,1324.8 C974.0,1319.1 979.5,1313.4 984.1,1308.9 C987.7,1305.4 990.6,1302.8 994.1,1300.0 C997.6,1297.2 1000.6,1294.2 1005.0,1292.0 C1010.3,1289.3 1017.6,1287.3 1024.3,1286.0 C1031.2,1284.7 1037.9,1284.4 1045.8,1284.2 C1055.4,1283.9 1070.7,1282.8 1077.9,1285.1 C1082.1,1286.5 1084.0,1288.9 1086.9,1291.3 C1090.0,1293.9 1093.0,1296.9 1095.8,1300.3 C1098.9,1304.0 1102.1,1308.4 1104.8,1312.8 C1107.5,1317.3 1109.5,1321.6 1111.9,1327.1 C1114.9,1334.1 1117.9,1343.5 1120.9,1351.5 C1123.8,1359.3 1126.8,1367.1 1129.8,1374.7 C1132.7,1382.0 1135.6,1389.4 1138.7,1396.2 C1141.6,1402.5 1144.5,1408.1 1147.7,1414.0 C1151.0,1420.0 1154.5,1426.2 1158.4,1431.9 C1162.2,1437.5 1166.4,1442.9 1170.9,1448.0 C1175.4,1453.1 1181.6,1459.2 1185.2,1462.3 C1187.2,1464.0 1188.2,1464.5 1190.0,1465.9 C1192.3,1467.6 1195.3,1470.1 1198.0,1471.9 C1200.6,1473.6 1203.3,1475.1 1206.0,1476.6 C1208.7,1478.0 1211.3,1479.5 1214.0,1480.7 C1216.7,1481.9 1219.4,1483.0 1222.0,1484.0 C1224.7,1485.0 1227.4,1485.8 1230.1,1486.6 C1232.7,1487.4 1235.4,1488.0 1238.1,1488.6 C1240.7,1489.2 1243.4,1489.7 1246.1,1490.1 C1248.7,1490.6 1251.4,1490.9 1254.1,1491.2 C1256.8,1491.5 1259.4,1491.7 1262.1,1492.0" fill="none" stroke="#037a80" stroke-width="3.8" stroke-linejoin="round" stroke-linecap="round"/>
<path d="M188.0,1595.0 C201.9,1594.3 216.0,1593.7 229.7,1593.0 C243.1,1592.3 255.4,1591.6 269.4,1591.0 C285.0,1590.3 304.7,1591.2 319.1,1589.0 C330.4,1587.3 338.9,1583.4 348.9,1581.1 C358.8,1578.8 368.8,1577.1 378.7,1575.1 C388.6,1573.1 398.6,1571.4 408.5,1569.1 C418.5,1566.8 429.2,1564.1 438.3,1561.2 C446.2,1558.7 453.1,1556.3 460.0,1552.9 C466.9,1549.5 473.2,1544.8 479.9,1541.0 C486.5,1537.2 493.1,1533.7 499.7,1530.1 C506.3,1526.4 513.1,1523.2 519.6,1519.1 C526.3,1514.9 533.3,1509.9 539.5,1505.2 C545.2,1500.9 550.5,1495.2 555.4,1492.3 C558.9,1490.2 562.0,1488.4 565.3,1488.3 C568.6,1488.2 572.4,1489.2 575.2,1491.3 C578.5,1493.8 580.7,1498.9 583.2,1503.3 C586.0,1508.1 588.4,1514.0 591.1,1519.1 C593.7,1523.9 595.8,1529.7 599.1,1533.1 C601.9,1536.0 605.3,1537.4 609.0,1539.0 C613.1,1540.8 618.8,1541.2 622.9,1543.0 C626.6,1544.6 629.4,1546.8 632.9,1549.0 C636.7,1551.4 640.5,1555.3 644.8,1556.9 C649.1,1558.5 653.6,1558.3 658.7,1558.9 C664.7,1559.6 672.0,1559.9 678.6,1560.9 C685.2,1561.9 691.8,1563.8 698.4,1564.8 C705.0,1565.8 711.5,1566.0 718.3,1566.8 C725.4,1567.7 732.9,1569.1 740.0,1570.0 C746.8,1570.8 753.3,1571.5 759.9,1572.0 C766.5,1572.5 772.8,1573.1 779.7,1573.0 C787.3,1572.9 797.2,1573.2 803.6,1571.0 C808.5,1569.3 811.6,1566.0 815.5,1563.1 C819.6,1560.1 823.4,1556.3 827.4,1553.1 C831.3,1550.0 834.9,1546.8 839.3,1544.2 C844.1,1541.4 849.5,1539.3 855.2,1537.2 C861.4,1534.9 868.9,1533.7 875.1,1531.3 C880.8,1529.0 885.8,1526.2 891.0,1523.3 C896.4,1520.3 901.6,1516.6 906.9,1513.4 C912.2,1510.3 917.5,1507.2 922.8,1504.4 C928.1,1501.6 933.0,1498.9 938.7,1496.5 C944.9,1493.9 951.9,1491.3 958.6,1489.5 C965.1,1487.7 971.8,1487.2 978.4,1485.6 C985.1,1483.9 991.8,1482.5 998.3,1479.6 C1005.1,1476.6 1012.4,1471.2 1018.2,1467.7 C1022.7,1465.0 1025.8,1463.0 1030.0,1460.5 C1034.9,1457.6 1040.2,1453.8 1045.8,1451.6 C1051.4,1449.4 1058.0,1447.3 1063.6,1447.1 C1068.6,1446.9 1073.5,1447.9 1077.9,1449.8 C1082.5,1451.7 1086.5,1455.1 1090.5,1458.7 C1094.9,1462.7 1099.4,1468.9 1103.0,1473.0 C1105.7,1476.0 1107.6,1478.2 1110.0,1480.9 C1112.6,1483.8 1115.3,1487.0 1118.0,1489.9 C1120.6,1492.7 1123.3,1495.4 1126.0,1498.0 C1128.7,1500.5 1131.3,1503.0 1134.0,1505.4 C1136.7,1507.7 1139.3,1510.0 1142.0,1512.1 C1144.7,1514.3 1147.3,1516.3 1150.0,1518.3 C1152.7,1520.2 1155.3,1522.1 1158.0,1523.9 C1160.7,1525.7 1163.3,1527.4 1166.0,1529.0 C1168.7,1530.6 1171.4,1532.1 1174.0,1533.6 C1176.7,1535.0 1179.4,1536.4 1182.0,1537.6 C1184.7,1538.9 1187.4,1540.1 1190.1,1541.2 C1192.7,1542.3 1195.4,1543.4 1198.1,1544.3 C1200.7,1545.3 1203.4,1546.2 1206.1,1547.0 C1208.7,1547.8 1211.4,1548.6 1214.1,1549.2 C1216.7,1549.9 1219.4,1550.5 1222.1,1551.0 C1224.7,1551.6 1227.4,1552.0 1230.1,1552.4 C1232.7,1552.8 1235.4,1553.2 1238.1,1553.5 C1240.7,1553.7 1243.4,1553.9 1246.1,1554.1 C1248.8,1554.2 1251.4,1554.3 1254.1,1554.4 C1256.8,1554.4 1259.4,1554.3 1262.1,1554.3" fill="none" stroke="#0000ff" stroke-width="3.8" stroke-linejoin="round" stroke-linecap="round"/>
<path d="M188.0,1712.5 C195.3,1713.8 202.0,1715.0 209.8,1716.5 C219.0,1718.3 229.6,1721.0 239.6,1722.5 C249.5,1724.0 259.5,1724.4 269.4,1725.4 C279.3,1726.4 290.8,1727.8 299.2,1728.4 C305.3,1728.8 309.3,1729.3 315.1,1729.0 C322.3,1728.6 330.6,1726.6 339.0,1725.4 C348.4,1724.1 358.9,1723.0 368.8,1721.5 C378.7,1720.0 388.7,1718.0 398.6,1716.5 C408.5,1715.0 418.5,1713.8 428.4,1712.5 C438.3,1711.2 449.1,1710.3 458.2,1708.5 C466.1,1706.9 472.9,1704.8 479.9,1702.6 C486.7,1700.5 493.1,1698.2 499.7,1695.6 C506.4,1692.9 513.4,1689.7 519.6,1686.7 C525.2,1684.0 530.3,1680.9 535.5,1678.7 C540.2,1676.7 544.7,1674.8 549.4,1673.8 C554.0,1672.8 558.9,1672.4 563.3,1672.8 C567.5,1673.2 571.7,1673.6 575.2,1675.8 C579.1,1678.3 581.9,1683.7 585.2,1687.7 C588.5,1691.7 591.8,1695.8 595.1,1699.6 C598.4,1703.3 601.1,1707.4 605.0,1710.5 C609.0,1713.7 614.2,1715.8 619.0,1718.5 C624.1,1721.4 629.6,1725.2 634.8,1727.4 C639.5,1729.4 643.7,1730.4 648.8,1731.4 C654.8,1732.5 662.0,1732.7 668.6,1733.4 C675.2,1734.1 681.2,1734.9 688.5,1735.4 C697.4,1736.0 709.2,1736.0 718.3,1736.4 C726.1,1736.7 731.7,1737.0 740.0,1737.4 C751.3,1737.9 766.5,1738.7 779.7,1739.3 C793.0,1740.0 806.6,1740.8 819.5,1741.3 C831.7,1741.8 843.5,1742.7 855.2,1742.3 C866.6,1742.0 878.7,1740.8 889.0,1739.3 C897.7,1738.0 906.6,1737.3 912.9,1734.4 C917.9,1732.2 920.9,1728.8 924.8,1725.4 C928.9,1721.8 932.5,1717.4 936.7,1713.5 C941.1,1709.4 945.5,1705.4 950.6,1701.6 C956.1,1697.5 962.4,1693.9 968.5,1689.7 C975.0,1685.3 981.8,1680.4 988.4,1675.8 C995.0,1671.3 1001.8,1666.7 1008.2,1662.5 C1014.3,1658.5 1020.1,1654.4 1026.0,1651.0 C1031.4,1647.9 1036.9,1645.4 1042.2,1642.9 C1047.1,1640.6 1051.6,1637.4 1056.5,1636.7 C1061.2,1636.0 1066.2,1636.8 1070.8,1638.4 C1075.8,1640.2 1080.5,1643.8 1085.1,1647.4 C1090.1,1651.2 1095.0,1656.6 1099.4,1660.8 C1103.2,1664.5 1106.7,1668.2 1110.0,1671.4 C1112.8,1674.1 1115.3,1676.5 1118.0,1678.9 C1120.6,1681.1 1123.3,1683.3 1126.0,1685.3 C1128.6,1687.2 1131.3,1688.8 1134.0,1690.5 C1136.7,1692.2 1139.3,1693.9 1142.0,1695.5 C1144.7,1697.0 1147.3,1698.5 1150.0,1699.9 C1152.7,1701.3 1155.3,1702.7 1158.0,1703.9 C1160.7,1705.2 1163.4,1706.3 1166.0,1707.5 C1168.7,1708.6 1171.4,1709.6 1174.0,1710.6 C1176.7,1711.6 1179.4,1712.5 1182.0,1713.3 C1184.7,1714.2 1187.4,1715.0 1190.1,1715.7 C1192.7,1716.5 1195.4,1717.2 1198.1,1717.8 C1200.7,1718.5 1203.4,1719.1 1206.1,1719.6 C1208.7,1720.2 1211.4,1720.7 1214.1,1721.2 C1216.7,1721.7 1219.4,1722.1 1222.1,1722.5 C1224.7,1722.9 1227.4,1723.3 1230.1,1723.7 C1232.7,1724.0 1235.4,1724.3 1238.1,1724.6 C1240.8,1725.0 1243.4,1725.2 1246.1,1725.5 C1248.8,1725.8 1251.4,1726.0 1254.1,1726.3 C1256.8,1726.6 1259.4,1726.8 1262.1,1727.0" fill="none" stroke="#ff0000" stroke-width="3.8" stroke-linejoin="round" stroke-linecap="round"/>
<path d="M188.0,1818.8 C195.3,1820.5 201.9,1822.2 209.8,1823.8 C218.9,1825.6 229.7,1827.3 239.6,1828.8 C249.5,1830.3 259.5,1831.5 269.4,1832.7 C279.3,1833.8 288.0,1834.9 299.2,1835.7 C313.6,1836.7 336.1,1836.2 348.9,1837.7 C357.1,1838.7 361.5,1840.6 368.8,1841.7 C377.7,1843.0 388.0,1843.7 398.6,1844.6 C410.9,1845.7 427.0,1846.9 438.3,1847.6 C446.6,1848.1 452.9,1848.4 460.0,1848.6 C466.8,1848.8 474.3,1849.0 480.0,1848.6 C484.2,1848.3 486.9,1848.2 491.0,1847.0 C496.5,1845.4 503.3,1841.2 509.7,1838.7 C516.2,1836.1 522.9,1833.9 529.5,1831.7 C536.1,1829.6 542.7,1827.6 549.4,1825.8 C556.0,1824.0 563.1,1822.9 569.3,1820.8 C575.0,1818.9 580.3,1817.1 585.2,1813.9 C590.3,1810.6 594.8,1805.7 599.1,1800.9 C603.5,1796.0 607.0,1790.3 611.0,1785.0 C615.0,1779.7 618.7,1773.7 622.9,1769.1 C626.7,1764.9 630.6,1760.9 634.8,1758.2 C638.6,1755.8 643.0,1753.5 646.8,1753.3 C650.2,1753.1 653.6,1754.6 656.7,1756.2 C660.2,1758.0 663.1,1761.4 666.6,1764.2 C670.4,1767.3 674.3,1771.3 678.6,1774.1 C682.9,1776.9 687.6,1779.3 692.5,1781.1 C697.5,1783.0 703.3,1783.6 708.4,1785.0 C713.2,1786.3 717.5,1787.6 722.3,1789.0 C727.4,1790.5 733.7,1791.8 738.2,1794.0 C742.1,1795.9 744.6,1798.6 748.1,1800.9 C751.8,1803.3 755.7,1804.8 760.0,1808.0 C765.9,1812.4 772.8,1821.1 779.7,1825.8 C786.0,1830.1 792.1,1833.3 799.6,1835.7 C808.3,1838.5 819.4,1839.7 829.4,1840.7 C839.3,1841.7 849.3,1841.9 859.2,1841.7 C869.1,1841.5 879.1,1841.2 889.0,1839.7 C899.0,1838.2 909.0,1836.1 918.8,1832.7 C928.9,1829.2 938.8,1824.0 948.6,1818.8 C958.7,1813.4 968.8,1806.7 978.4,1800.9 C987.3,1795.5 996.3,1789.8 1004.3,1785.0 C1011.0,1781.0 1017.1,1776.8 1023.0,1774.0 C1027.8,1771.7 1032.1,1770.0 1036.8,1769.0 C1041.5,1768.0 1046.2,1767.9 1051.1,1768.1 C1056.3,1768.4 1062.1,1768.9 1067.2,1770.7 C1072.3,1772.5 1076.5,1775.7 1081.5,1778.8 C1087.2,1782.4 1094.2,1787.9 1099.4,1791.3 C1103.3,1793.9 1106.7,1795.7 1110.0,1797.6 C1112.9,1799.4 1115.3,1800.9 1118.0,1802.5 C1120.7,1804.0 1123.3,1805.6 1126.0,1807.0 C1128.7,1808.5 1131.3,1809.9 1134.0,1811.3 C1136.7,1812.7 1139.3,1813.9 1142.0,1815.2 C1144.7,1816.4 1147.3,1817.6 1150.0,1818.8 C1152.7,1819.9 1155.4,1821.0 1158.0,1822.1 C1160.7,1823.1 1163.4,1824.1 1166.0,1825.1 C1168.7,1826.1 1171.4,1827.0 1174.0,1827.8 C1176.7,1828.7 1179.4,1829.5 1182.0,1830.3 C1184.7,1831.1 1187.4,1831.8 1190.1,1832.5 C1192.7,1833.2 1195.4,1833.8 1198.1,1834.4 C1200.7,1835.0 1203.4,1835.6 1206.1,1836.1 C1208.7,1836.6 1211.4,1837.0 1214.1,1837.4 C1216.7,1837.9 1219.4,1838.2 1222.1,1838.6 C1224.7,1838.9 1227.4,1839.2 1230.1,1839.4 C1232.7,1839.7 1235.4,1839.9 1238.1,1840.1 C1240.8,1840.2 1243.4,1840.3 1246.1,1840.4 C1248.8,1840.5 1251.4,1840.5 1254.1,1840.5 C1256.8,1840.5 1259.4,1840.5 1262.1,1840.4" fill="none" stroke="#000000" stroke-width="3.8" stroke-linejoin="round" stroke-linecap="round"/>
<text transform="translate(297.98,1934.80) scale(0.8759,1)" style="font-family:'Liberation Sans',Arial,sans-serif;font-weight:normal;font-style:normal;font-size:33.47px;font-kerning:none" fill="#000">200</text>
<text transform="translate(566.58,1934.80) scale(0.8759,1)" style="font-family:'Liberation Sans',Arial,sans-serif;font-weight:normal;font-style:normal;font-size:33.47px;font-kerning:none" fill="#000">400</text>
<text transform="translate(834.37,1934.80) scale(0.8759,1)" style="font-family:'Liberation Sans',Arial,sans-serif;font-weight:normal;font-style:normal;font-size:33.47px;font-kerning:none" fill="#000">600</text>
<text transform="translate(1102.68,1934.80) scale(0.8759,1)" style="font-family:'Liberation Sans',Arial,sans-serif;font-weight:normal;font-style:normal;font-size:33.47px;font-kerning:none" fill="#000">800</text>
<text transform="translate(1362.24,1934.80) scale(0.8759,1)" style="font-family:'Liberation Sans',Arial,sans-serif;font-weight:normal;font-style:normal;font-size:33.47px;font-kerning:none" fill="#000">1000</text>
<rect x="1363.27" y="1931.60" width="6.34" height="4.40" fill="#fbfbfb"/>
<rect x="1372.20" y="1931.60" width="6.11" height="4.40" fill="#fbfbfb"/>
<text transform="translate(160.06,1131.45) scale(0.9120,1)" style="font-family:'Liberation Sans',Arial,sans-serif;font-weight:normal;font-style:normal;font-size:46.57px;font-kerning:none" fill="#000" >b</text>
<text transform="translate(615.48,2017.64) scale(0.8792,1)" style="font-family:'Liberation Sans',Arial,sans-serif;font-weight:bold;font-style:italic;font-size:48.46px;font-kerning:none" fill="#000" >Temperature</text>
<text transform="translate(887.77,2016.37) scale(0.5499,1)" style="font-family:'Liberation Sans',Arial,sans-serif;font-weight:normal;font-style:italic;font-size:44.12px;font-kerning:none" fill="#000" >/</text>
<text transform="translate(909.70,1994.67) scale(0.9061,1)" style="font-family:'Liberation Sans',Arial,sans-serif;font-weight:bold;font-style:normal;font-size:33.77px;font-kerning:none" fill="#000" >o</text>
<text transform="translate(929.67,2015.95) scale(0.8663,1)" style="font-family:'Liberation Sans',Arial,sans-serif;font-weight:bold;font-style:normal;font-size:45.90px;font-kerning:none" fill="#000" >C</text>
<line x1="1102" y1="1996.7" x2="1272" y2="1996.7" stroke="#2a2a2a" stroke-width="2.4"/>
<polygon points="1268.7,1990.4 1277,1992 1289.8,1994.8 1289.8,1998.4 1277,2001.2 1268.7,2002.8" fill="#000"/>
<text transform="translate(49.78,1604.13) rotate(-90) scale(1.0913,1)" style="font-family:'Liberation Sans',Arial,sans-serif;font-weight:bold;font-style:italic;font-size:43.45px;font-kerning:none" fill="#000">Intensity</text>
<text transform="translate(50.36,1395.34) rotate(-90) scale(1.2888,1)" style="font-family:'Liberation Sans',Arial,sans-serif;font-weight:normal;font-style:italic;font-size:44.66px;font-kerning:none" fill="#000">/</text>
<text transform="translate(50.41,1369.61) rotate(-90) scale(1.2097,1)" style="font-family:'Liberation Sans',Arial,sans-serif;font-weight:bold;font-style:normal;font-size:39.79px;font-kerning:none" fill="#000">a.u.</text>
<text transform="translate(1272.05,1294.60) scale(0.9346,1)" style="font-family:'Liberation Sans',Arial,sans-serif;font-weight:normal;font-style:normal;font-size:41.13px;font-kerning:none" fill="#000" >Fe</text>
<text transform="translate(1316.59,1311.05) scale(0.8360,1)" style="font-family:'Liberation Sans',Arial,sans-serif;font-weight:normal;font-style:normal;font-size:25.42px;font-kerning:none" fill="#000" >30</text>
<text transform="translate(1341.44,1294.60) scale(0.9049,1)" style="font-family:'Liberation Sans',Arial,sans-serif;font-weight:normal;font-style:normal;font-size:40.54px;font-kerning:none" fill="#000" >Ce</text>
<text transform="translate(1389.47,1311.05) scale(0.8660,1)" style="font-family:'Liberation Sans',Arial,sans-serif;font-weight:normal;font-style:normal;font-size:25.42px;font-kerning:none" fill="#000" >70</text>
<text transform="translate(1283.84,1437.41) scale(0.9226,1)" style="font-family:'Liberation Sans',Arial,sans-serif;font-weight:normal;font-style:normal;font-size:40.42px;font-kerning:none" fill="#000" >Fe</text>
<text transform="translate(1326.89,1452.78) scale(0.9856,1)" style="font-family:'Liberation Sans',Arial,sans-serif;font-weight:normal;font-style:normal;font-size:22.32px;font-kerning:none" fill="#000" >20</text>
<text transform="translate(1351.99,1437.41) scale(0.9422,1)" style="font-family:'Liberation Sans',Arial,sans-serif;font-weight:normal;font-style:normal;font-size:39.83px;font-kerning:none" fill="#000" >Ce</text>
<text transform="translate(1399.60,1452.78) scale(1.0269,1)" style="font-family:'Liberation Sans',Arial,sans-serif;font-weight:normal;font-style:normal;font-size:22.32px;font-kerning:none" fill="#000" >80</text>
<text transform="translate(1282.05,1539.60) scale(0.9346,1)" style="font-family:'Liberation Sans',Arial,sans-serif;font-weight:normal;font-style:normal;font-size:41.13px;font-kerning:none" fill="#000" >Fe</text>
<text transform="translate(1326.82,1556.08) scale(0.9887,1)" style="font-family:'Liberation Sans',Arial,sans-serif;font-weight:normal;font-style:normal;font-size:22.32px;font-kerning:none" fill="#000" >10</text>
<rect x="1327.30" y="1553.71" width="5.07" height="3.57" fill="#fbfbfb"/>
<rect x="1334.32" y="1553.71" width="4.90" height="3.57" fill="#fbfbfb"/>
<text transform="translate(1351.44,1539.60) scale(0.9049,1)" style="font-family:'Liberation Sans',Arial,sans-serif;font-weight:normal;font-style:normal;font-size:40.54px;font-kerning:none" fill="#000" >Ce</text>
<text transform="translate(1398.50,1556.08) scale(0.9561,1)" style="font-family:'Liberation Sans',Arial,sans-serif;font-weight:normal;font-style:normal;font-size:22.32px;font-kerning:none" fill="#000" >90</text>
<text transform="translate(1289.95,1694.50) scale(0.9323,1)" style="font-family:'Liberation Sans',Arial,sans-serif;font-weight:normal;font-style:normal;font-size:41.13px;font-kerning:none" fill="#000" >Fe</text>
<text transform="translate(1335.45,1710.95) scale(0.9239,1)" style="font-family:'Liberation Sans',Arial,sans-serif;font-weight:normal;font-style:normal;font-size:25.80px;font-kerning:none" fill="#000" >5</text>
<text transform="translate(1346.89,1694.50) scale(0.9279,1)" style="font-family:'Liberation Sans',Arial,sans-serif;font-weight:normal;font-style:normal;font-size:40.54px;font-kerning:none" fill="#000" >Ce</text>
<text transform="translate(1393.92,1710.95) scale(0.9070,1)" style="font-family:'Liberation Sans',Arial,sans-serif;font-weight:normal;font-style:normal;font-size:25.42px;font-kerning:none" fill="#000" >95</text>
<text transform="translate(1299.27,1811.31) scale(0.8960,1)" style="font-family:'Liberation Sans',Arial,sans-serif;font-weight:normal;font-style:normal;font-size:40.25px;font-kerning:none" fill="#000" >CeO</text>
<text transform="translate(1373.58,1812.50) scale(1.0024,1)" style="font-family:'Liberation Sans',Arial,sans-serif;font-weight:normal;font-style:normal;font-size:30.22px;font-kerning:none" fill="#000" >2</text>
</svg></body></html>
